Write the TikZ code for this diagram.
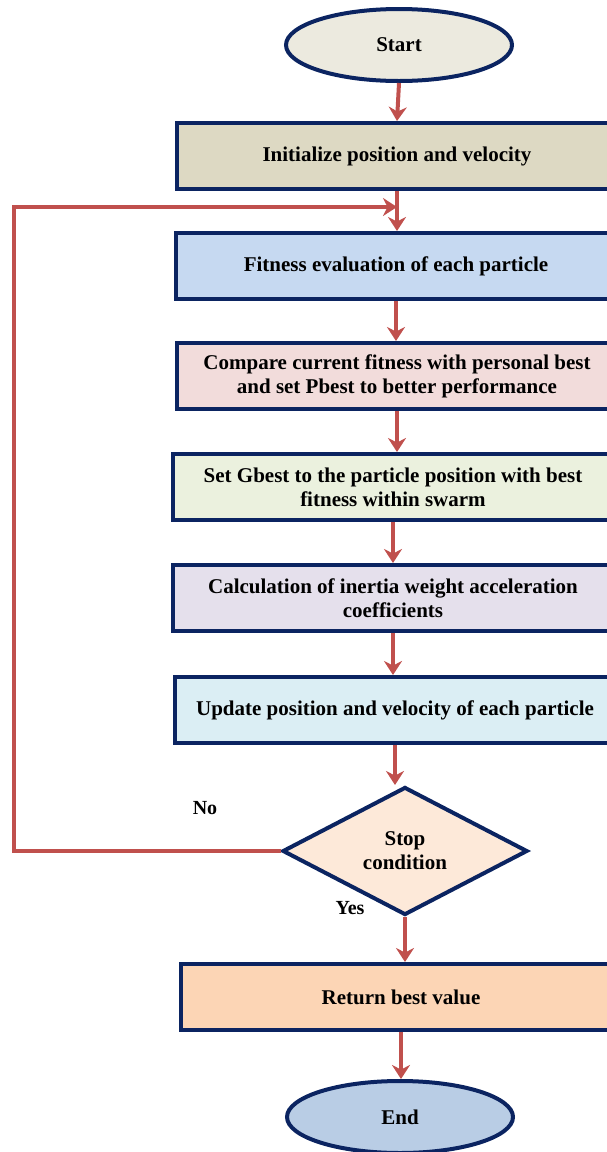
\documentclass[tikz,border=0pt]{standalone}
\usepackage{fontspec}
\setmainfont{Liberation Serif}
\usetikzlibrary{shapes.geometric,arrows.meta}
\definecolor{navy}{HTML}{0B2461}
\definecolor{arrowred}{HTML}{C0504D}
\definecolor{cstart}{HTML}{ECEADF}
\definecolor{cinit}{HTML}{DDD9C3}
\definecolor{cfit}{HTML}{C6D9F1}
\definecolor{ccomp}{HTML}{F2DCDB}
\definecolor{cgbest}{HTML}{EBF1DE}
\definecolor{ccalc}{HTML}{E5E0EC}
\definecolor{cupd}{HTML}{DBEEF4}
\definecolor{cdec}{HTML}{FDE9D9}
\definecolor{cret}{HTML}{FCD5B5}
\definecolor{cend}{HTML}{B9CDE5}
\tikzset{
  every node/.style={font=\fontsize{21}{24}\selectfont\bfseries},
  procbox/.style={draw=navy, line width=4pt, rectangle, minimum width=440pt, minimum height=66pt, align=center, inner sep=0pt},
  term/.style={draw=navy, line width=4pt, ellipse, minimum width=226pt, minimum height=72pt, inner sep=0pt},
  decision/.style={draw=navy, line width=4pt, diamond, minimum width=245pt, minimum height=128pt, inner sep=0pt, align=center, fill=cdec},
  flow/.style={draw=arrowred, line width=4pt, -{Stealth[length=14pt,width=18pt]}},
  plainlab/.style={font=\fontsize{20}{22}\selectfont\bfseries}
}
\begin{document}
\begin{tikzpicture}[x=1pt,y=-1pt]
\useasboundingbox (0,0) rectangle (607,1152);
\clip (0,0) rectangle (607,1152);
\node[term, fill=cstart] (start) at (399,45) {Start};
\node[procbox, fill=cinit] (init) at (397,156) {Initialize position and velocity};
\node[procbox, fill=cfit] (fit) at (396,266) {Fitness evaluation of each particle};
\node[procbox, fill=ccomp] (comp) at (397,376) {Compare current fitness with personal best\\and set Pbest to better performance};
\node[procbox, fill=cgbest] (gbest) at (393,487) {Set Gbest to the particle position with best\\fitness within swarm};
\node[procbox, fill=ccalc] (calc) at (393,598) {Calculation of inertia weight acceleration\\coefficients};
\node[procbox, fill=cupd] (upd) at (395,710) {Update position and velocity of each particle};
\node[decision] (dec) at (405,851) {Stop\\condition};
\node[procbox, fill=cret] (ret) at (401,997) {Return best value};
\node[term, fill=cend] (end) at (400,1117) {End};
\node[plainlab] (no) at (205,808) {No};
\node[plainlab] (yes) at (350,908) {Yes};
\coordinate (fb) at (14,207);
\coordinate (join) at (init.south |- fb);
\draw[flow] (start.south) -- (init.north);
\draw[flow] (init.south) -- (init.south |- fit.north);
\draw[flow] (fit.south) -- (fit.south |- comp.north);
\draw[flow] (comp.south) -- (comp.south |- gbest.north);
\draw[flow] (gbest.south) -- (gbest.south |- calc.north);
\draw[flow] (calc.south) -- (calc.south |- upd.north);
\draw[flow] (upd.south) -- (upd.south |- dec.north);
\draw[flow] (dec.south) -- (dec.south |- ret.north);
\draw[flow] (ret.south) -- (ret.south |- end.north);
\draw[flow] (dec.west) -| (fb) -- (join);
\end{tikzpicture}
\end{document}
